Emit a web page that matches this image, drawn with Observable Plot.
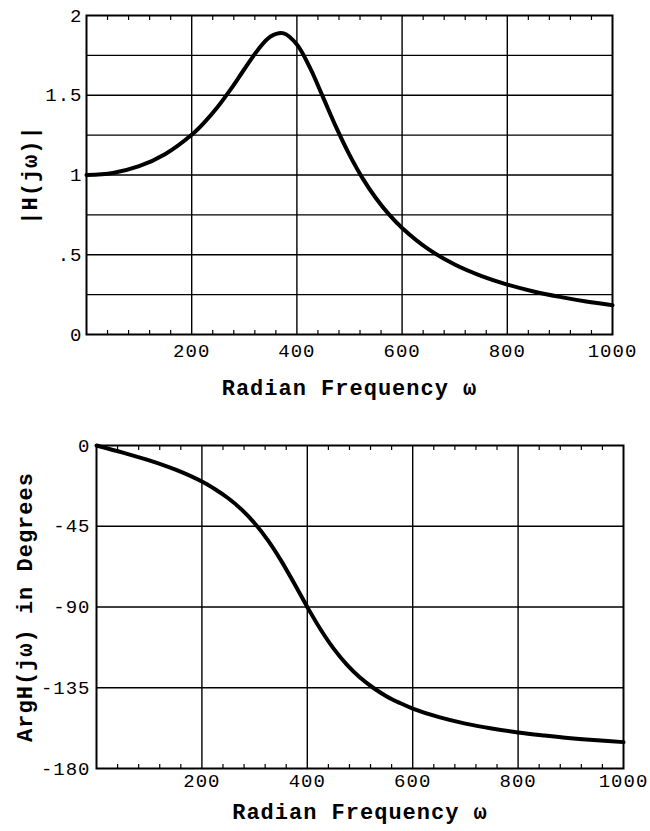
<!DOCTYPE html>
<html><head><meta charset="utf-8">
<script src="https://cdn.jsdelivr.net/npm/d3@7"></script>
<script src="https://cdn.jsdelivr.net/npm/@observablehq/plot@0.6"></script>
<style>
body{margin:0;background:#fff;}
#chart svg{display:block;}
#chart svg text{letter-spacing:1px;}
</style>
</head><body><div id="chart"></div>
<script>
const omega = [0,50,100,150,200,225,250,275,300,325,350,375,400,425,450,475,500,525,550,575,600,650,700,750,800,850,900,950,1000];
const magnitude = [1.000,1.013,1.055,1.132,1.252,1.333,1.429,1.541,1.663,1.781,1.868,1.888,1.818,1.671,1.485,1.297,1.126,0.979,0.856,0.753,0.668,0.535,0.439,0.368,0.313,0.270,0.236,0.207,0.184];
const phaseDeg = [0,-4.0,-8.3,-13.5,-20.1,-24.4,-29.4,-35.6,-43.3,-52.7,-64.0,-76.8,-90.0,-102.4,-113.2,-122.1,-129.3,-135.0,-139.7,-143.4,-146.6,-151.4,-155.0,-157.7,-159.9,-161.6,-163.1,-164.3,-165.3];

const xTicks = [200,400,600,800,1000];
const xTickLabels = ["200","400","600","800","1000"];
const xGrid = [200,400,600,800];
const xMinor = [40,80,120,160,240,280,320,360,440,480,520,560,640,680,720,760,840,880,920,960];
const magTicks = [0,0.5,1,1.5,2];
const magTickLabels = ["0",".5","1","1.5","2"];
const magGrid = [0.25,0.5,0.75,1,1.25,1.5,1.75];
const phaseTicks = [-180,-135,-90,-45,0];
const phaseTickLabels = ["-180","-135","-90","-45","0"];
const phaseGrid = [-135,-90,-45];

const xLabel = "Radian Frequency ω";
const magLabel = "|H(jω)|";
const phaseLabel = "ArgH(jω) in Degrees";

const magData = omega.map((w,i)=>({w, v: magnitude[i]}));
const phaseData = omega.map((w,i)=>({w, v: phaseDeg[i]}));

const plotStyle = {fontFamily:"'Liberation Mono', monospace", fontSize:"19px", color:"black", background:"white", overflow:"visible"};

function panel({height, marginLeft, marginRight, marginTop, marginBottom, yDomain, yTicks, yLabels, yGrid, data, yLabel, yLabelDx, xLabelDy, xPad, yPad}) {
  return Plot.plot({
    width: 650, height, marginLeft, marginRight, marginTop, marginBottom,
    style: plotStyle,
    x: {domain:[0,1000]},
    y: {domain: yDomain},
    marks: [
      Plot.ruleX(xGrid, {stroke:"black", strokeWidth:1.4}),
      Plot.ruleY(yGrid, {stroke:"black", strokeWidth:1.4}),
      Plot.axisX(xMinor, {anchor:"bottom", tickSize:-4, tickFormat:()=>"", label:null, strokeWidth:1.2}),
      Plot.axisX(xMinor, {anchor:"top", tickSize:-4, tickFormat:()=>"", label:null, strokeWidth:1.2}),
      Plot.axisX(xTicks, {anchor:"bottom", tickSize:0, tickPadding:xPad, label:null, fontSize:19,
        tickFormat: d => xTickLabels[xTicks.indexOf(d)]}),
      Plot.axisY(yTicks, {anchor:"left", tickSize:0, tickPadding:yPad, label:null, fontSize:19,
        tickFormat: d => yLabels[yTicks.indexOf(d)]}),
      Plot.line(data, {x:"w", y:"v", stroke:"black", strokeWidth:4, curve:"catmull-rom"}),
      Plot.frame({stroke:"black", strokeWidth:2}),
      Plot.text([xLabel], {text:d=>d, frameAnchor:"bottom", dy:xLabelDy, fontWeight:"bold", fontSize:22, textAnchor:"middle", lineAnchor:"middle"}),
      Plot.text([yLabel], {text:d=>d, frameAnchor:"left", dx:yLabelDx, rotate:-90, fontWeight:"bold", fontSize:22, textAnchor:"middle", lineAnchor:"middle"})
    ]
  });
}

const magPlot = panel({height:405, marginLeft:86, marginRight:38, marginTop:15, marginBottom:71,
  yDomain:[0,2], yTicks:magTicks, yLabels:magTickLabels, yGrid:magGrid, data:magData,
  yLabel:magLabel, yLabelDx:-57, xLabelDy:53, xPad:9, yPad:4});
const phasePlot = panel({height:426, marginLeft:96, marginRight:27, marginTop:40, marginBottom:63,
  yDomain:[-180,0], yTicks:phaseTicks, yLabels:phaseTickLabels, yGrid:phaseGrid, data:phaseData,
  yLabel:phaseLabel, yLabelDx:-72, xLabelDy:43, xPad:5, yPad:6});

const root = document.getElementById("chart");
root.appendChild(magPlot);
root.appendChild(phasePlot);
</script>
</body></html>
